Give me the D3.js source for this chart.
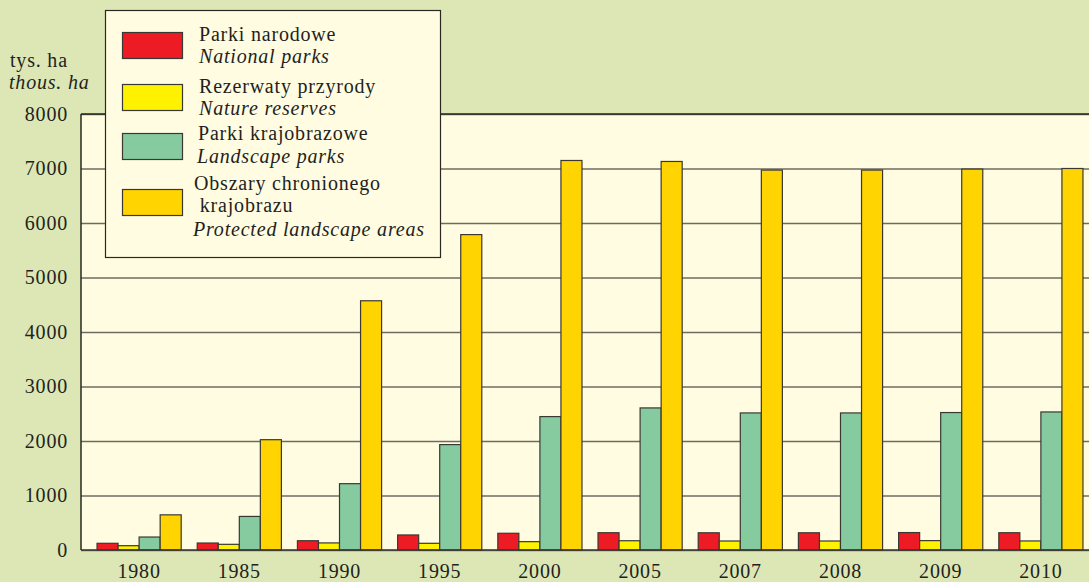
<!DOCTYPE html>
<html>
<head>
<meta charset="utf-8">
<script src="https://cdn.jsdelivr.net/npm/d3@7"></script>
<style>
  html, body { margin: 0; padding: 0; background: #dce7b5; }
  svg { display: block; }
  text { font-family: "Liberation Serif", "Times New Roman", serif; fill: #231f20; letter-spacing: 0.8px; }
</style>
</head>
<body>
<svg id="chart" width="1089" height="582"></svg>
<script>
const years = ["1980", "1985", "1990", "1995", "2000", "2005", "2007", "2008", "2009", "2010"];
const nationalParks    = [123, 128, 170, 276, 307, 317, 316, 316, 320, 317];
const natureReserves   = [79, 104, 130, 123, 153, 170, 165, 165, 172, 166];
const landscapeParks   = [238, 616, 1217, 1934, 2448, 2607, 2515, 2515, 2522, 2533];
const protectedAreas   = [645, 2024, 4573, 5787, 7147, 7129, 6971, 6971, 6989, 7000];
const yTicks = [0, 1000, 2000, 3000, 4000, 5000, 6000, 7000, 8000];

const seriesNames = [
  { pl: ["Parki narodowe"], en: "National parks" },
  { pl: ["Rezerwaty przyrody"], en: "Nature reserves" },
  { pl: ["Parki krajobrazowe"], en: "Landscape parks" },
  { pl: ["Obszary chronionego", " krajobrazu"], en: "Protected landscape areas" }
];
const seriesData = [nationalParks, natureReserves, landscapeParks, protectedAreas];
const colors = ["#ed1c24", "#fff200", "#86cba0", "#ffd400"];

const FS = 20;
const svg = d3.select("#chart");
const W = 1089, H = 582;
svg.append("rect").attr("width", W).attr("height", H).attr("fill", "#dce7b5");

const plot = { left: 81, right: 1099, top: 114, bottom: 550 };

const y = d3.scaleLinear().domain([0, 8000]).range([plot.bottom, plot.top]);
const x0 = d3.scaleBand().domain(years).range([plot.left, plot.right])
  .paddingInner(0.16).paddingOuter(0.16);
const x1 = d3.scaleBand().domain(d3.range(4)).range([0, x0.bandwidth()]).padding(0);

// plot background
svg.append("rect")
  .attr("x", plot.left).attr("y", plot.top)
  .attr("width", plot.right - plot.left).attr("height", plot.bottom - plot.top)
  .attr("fill", "#fffce2");

// gridlines
const yAxis = d3.axisLeft(y).tickValues(yTicks).tickSize(-(plot.right - plot.left)).tickFormat("");
const gGrid = svg.append("g").attr("transform", `translate(${plot.left},0)`).call(yAxis);
gGrid.select(".domain").remove();
gGrid.selectAll(".tick line").attr("stroke", "#6e6c62").attr("stroke-width", 1.3);

// tick labels
const gLab = svg.append("g").attr("transform", `translate(${plot.left},0)`)
  .call(d3.axisLeft(y).tickValues(yTicks).tickSize(0).tickPadding(13).tickFormat(d3.format("d")));
gLab.select(".domain").remove();
gLab.selectAll("text").attr("font-size", FS).attr("font-family", "Liberation Serif").attr("fill", "#231f20");

// bars
const groups = svg.append("g").selectAll("g").data(years).join("g")
  .attr("transform", d => `translate(${x0(d)},0)`);
groups.selectAll("rect")
  .data((d, i) => seriesData.map((s, k) => ({ k, v: s[i] })))
  .join("rect")
  .attr("x", d => x1(d.k))
  .attr("width", x1.bandwidth())
  .attr("y", d => y(d.v))
  .attr("height", d => y(0) - y(d.v))
  .attr("fill", d => colors[d.k])
  .attr("stroke", "#3a3832")
  .attr("stroke-width", 1.2);

// axis lines
svg.append("line").attr("x1", plot.left).attr("x2", plot.right).attr("y1", plot.bottom).attr("y2", plot.bottom)
  .attr("stroke", "#3a3832").attr("stroke-width", 1.5);
svg.append("line").attr("x1", plot.left).attr("x2", plot.right).attr("y1", plot.top).attr("y2", plot.top)
  .attr("stroke", "#2a2822").attr("stroke-width", 1.5);
svg.append("line").attr("x1", plot.left).attr("x2", plot.left).attr("y1", plot.top).attr("y2", plot.bottom)
  .attr("stroke", "#2a2822").attr("stroke-width", 1.5);

// x labels
const xAxis = d3.axisBottom(x0).tickSize(0).tickPadding(14);
const gX = svg.append("g").attr("transform", `translate(0,${plot.bottom})`).call(xAxis);
gX.select(".domain").remove();
gX.selectAll("text").attr("font-size", FS).attr("font-family", "Liberation Serif").attr("fill", "#231f20");

// unit label
svg.append("text").attr("x", 10).attr("y", 67).attr("font-size", FS).text("tys. ha");
svg.append("text").attr("x", 9).attr("y", 89).attr("font-size", FS).attr("font-style", "italic").text("thous. ha");

// legend
const lg = svg.append("g");
lg.append("rect").attr("x", 105.5).attr("y", 10.5).attr("width", 335).attr("height", 247)
  .attr("fill", "#fffce2").attr("stroke", "#2a2822").attr("stroke-width", 1.2);
const swatchY = [32, 84, 133, 189];
const textY = [[41, 63], [93, 115], [140, 163], [190, 212, 236]];
const textX = [[199, 199], [199, 199], [198, 197], [194, 194, 193]];
seriesNames.forEach((s, k) => {
  lg.append("rect").attr("x", 122.5).attr("y", swatchY[k] + 0.5).attr("width", 60).attr("height", 26)
    .attr("fill", colors[k]).attr("stroke", "#3a3832").attr("stroke-width", 1.2);
  s.pl.forEach((t, j) => {
    lg.append("text").attr("x", textX[k][j]).attr("y", textY[k][j]).attr("font-size", FS)
      .attr("xml:space", "preserve").style("white-space", "pre").text(t);
  });
  const j = s.pl.length;
  lg.append("text").attr("x", textX[k][j]).attr("y", textY[k][j]).attr("font-size", FS)
    .attr("font-style", "italic").text(s.en);
});
</script>
</body>
</html>
